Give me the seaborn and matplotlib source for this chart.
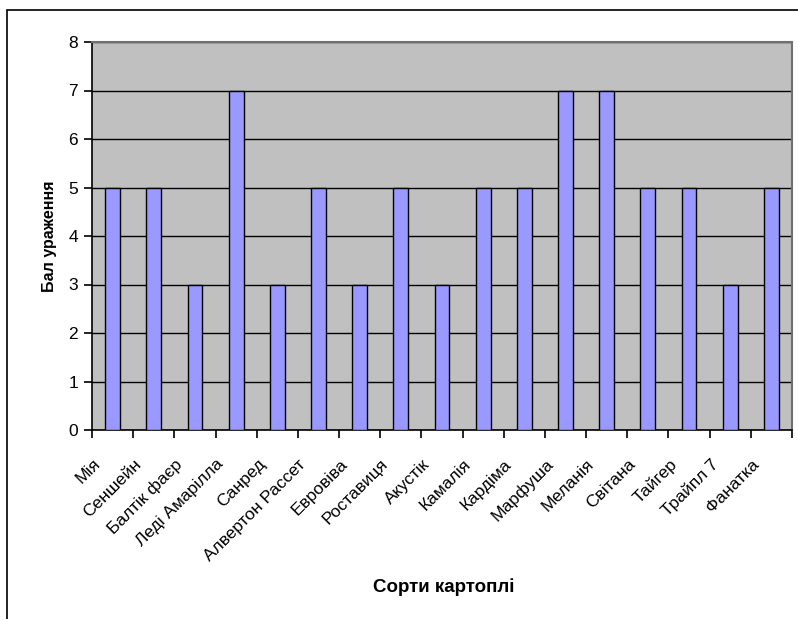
import matplotlib
matplotlib.use("Agg")
import matplotlib.pyplot as plt
import matplotlib.transforms as mtransforms
from matplotlib.patches import Rectangle
import seaborn as sns
import pandas as pd

varieties = ["Мія", "Сеншейн", "Балтік фаєр", "Леді Амарілла", "Санред",
             "Алвертон Рассет", "Евровіва", "Роставиця", "Акустік", "Камалія",
             "Кардіма", "Марфуша", "Меланія", "Світана", "Тайгер", "Трайпл 7",
             "Фанатка"]
scores = [5, 5, 3, 7, 3, 5, 3, 5, 3, 5, 5, 7, 7, 5, 5, 3, 5]
y_ticks = [0, 1, 2, 3, 4, 5, 6, 7, 8]

df = pd.DataFrame({"variety": varieties, "score": scores})

sns.set_style("white")
plt.rcParams["font.family"] = ["Liberation Sans", "DejaVu Sans"]
for key in ("text.color", "axes.labelcolor", "xtick.color", "ytick.color"):
    plt.rcParams[key] = "black"

fig = plt.figure(figsize=(7.98, 6.19), dpi=100)
W, H = 798, 619
ax = fig.add_axes([92 / W, 1 - 430 / H, 700 / W, 388 / H])
ax.set_facecolor("#C0C0C0")

sns.barplot(data=df, x="variety", y="score", color="#9999FF",
            edgecolor="black", linewidth=1.0, width=0.36, saturation=1,
            ax=ax, zorder=3)

ax.set_xlim(-0.5, len(varieties) - 0.5)
ax.set_ylim(0, 8)
ax.set_yticks(y_ticks)
ax.set_yticklabels([str(t) for t in y_ticks], fontsize=12.5)
ax.yaxis.grid(True, color="black", linewidth=1.0, zorder=1)
ax.set_axisbelow(True)

# category boundary ticks on x, labels centred between them
ax.set_xticks(range(len(varieties)))
ax.set_xticks([i - 0.5 for i in range(len(varieties) + 1)], minor=True)
ax.tick_params(axis="x", which="major", length=0, pad=2)
ax.tick_params(axis="x", which="minor", length=6, width=1.2, color="black",
               direction="out", bottom=True)
ax.tick_params(axis="y", length=6, width=1.2, color="black", direction="out",
               left=True, pad=4)
offset = mtransforms.ScaledTranslation(-14.5 / 72, -17 / 72, fig.dpi_scale_trans)
ax.set_xticklabels(varieties, rotation=45, ha="right", va="top",
                   rotation_mode="anchor", fontsize=12.5)
for lbl in ax.get_xticklabels():
    lbl.set_transform(lbl.get_transform() + offset)

for side in ("left", "bottom"):
    ax.spines[side].set_color("black")
    ax.spines[side].set_linewidth(1.2)
for side in ("top", "right"):
    ax.spines[side].set_visible(True)
    ax.spines[side].set_color("#707070")
    ax.spines[side].set_linewidth(1.5)

ax.set_xlabel("")
ax.set_ylabel("Бал ураження", fontsize=11.5, fontweight="bold", labelpad=8)
fig.text(444 / W, 1 - 587 / H, "Сорти картоплі", fontsize=13.5,
         fontweight="bold", ha="center", va="center")

# chart-area frame
fig.patches.append(Rectangle((7 / W, -0.05), 1.0, 1 - 10 / H + 0.05,
                             transform=fig.transFigure, fill=False,
                             edgecolor="black", linewidth=1.2))

fig.savefig("out.png", dpi=100)
